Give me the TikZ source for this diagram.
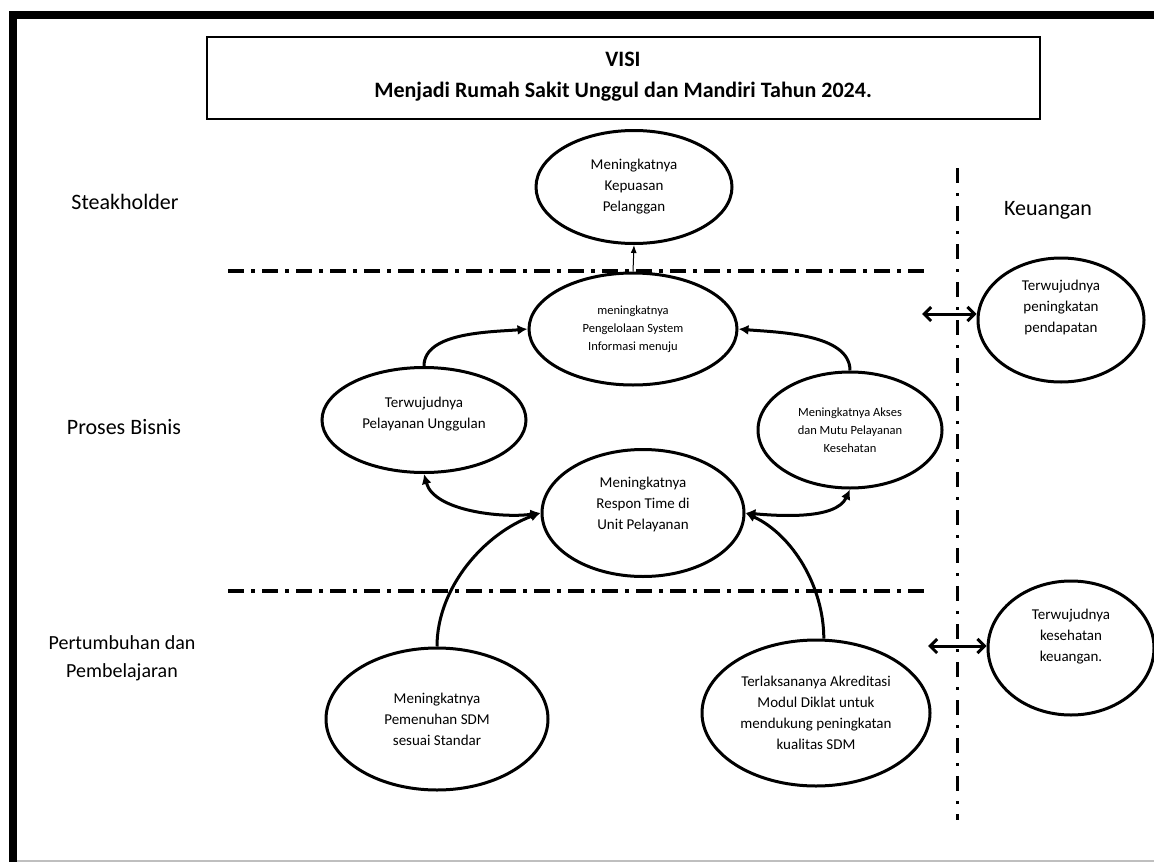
\documentclass[tikz,border=0pt]{standalone}
\usepackage{fontspec}
\setmainfont{Carlito}
\usetikzlibrary{shapes.geometric,arrows.meta}
\tikzset{
  ell/.style={ellipse, draw, line width=3pt, inner sep=0pt, align=center, font=\fontsize{15}{21}\selectfont},
  ellsmall/.style={ell, font=\fontsize{12.5}{17.8}\selectfont},
  lab/.style={align=center, font=\fontsize{22}{28}\selectfont},
  conn/.style={line width=3pt, -{Latex[length=10pt,width=10pt]}},
  dconn/.style={line width=3pt, {Latex[length=10pt,width=10pt]}-{Latex[length=10pt,width=10pt]}},
  barb/.style={line width=3pt, {Straight Barb[length=7pt,width=14pt]}-{Straight Barb[length=7pt,width=14pt]}},
  hsep/.style={line width=3.5pt, dash pattern=on 16pt off 7pt on 4pt off 7pt},
  vsep/.style={line width=3pt, dash pattern=on 15pt off 10pt on 3pt off 10pt}
}
\begin{document}
\begin{tikzpicture}[x=1pt,y=-1pt]
\useasboundingbox (0,0) rectangle (1154,862);
% frame
\draw[gray!50, line width=1.5pt] (12,861) -- (1154,861);
\draw[line width=8pt] (12.5,862) -- (12.5,15) -- (1154,15);
% title
\node[draw, line width=2pt, minimum width=833pt, minimum height=82pt, inner sep=0pt] (visi) at (623.5,78) {};
\node[align=center, font=\bfseries\fontsize{22}{31}\selectfont] (visitxt) at (623,77) {VISI\\Menjadi Rumah Sakit Unggul dan Mandiri Tahun 2024.};
% separators
\draw[hsep] (228,271) -- (930,271);
\draw[hsep] (228,591) -- (930,591);
\draw[vsep] (957,168) -- (957,820);
% labels
\node[lab] (stake) at (125,202) {Steakholder};
\node[lab] (keuangan) at (1048,210) {Keuangan};
\node[lab] (proses) at (124,427) {Proses Bisnis};
\node[lab, font=\fontsize{20}{28}\selectfont] (tumbuh) at (122,658) {Pertumbuhan dan\\Pembelajaran};
% ellipses
\node[ell, minimum width=196pt, minimum height=113pt] (kep) at (634,187) {Meningkatnya\\Kepuasan\\Pelanggan};
\node[ellsmall, minimum width=208pt, minimum height=112pt] (sis) at (633,329) {meningkatnya\\Pengelolaan System\\Informasi menuju};
\node[ell, minimum width=204pt, minimum height=105pt] (ung) at (424,420) {Terwujudnya\\Pelayanan Unggulan\\[-6pt]};
\node[ellsmall, minimum width=184pt, minimum height=116pt] (akses) at (850,430) {Meningkatnya Akses\\dan Mutu Pelayanan\\Kesehatan};
\node[ell, minimum width=202pt, minimum height=127pt] (resp) at (643,513) {Meningkatnya\\Respon Time di\\Unit Pelayanan\\[-2pt]};
\node[ell, minimum width=222pt, minimum height=142pt] (sdm) at (437,719) {Meningkatnya\\Pemenuhan SDM\\sesuai Standar};
\node[ell, minimum width=228pt, minimum height=146pt] (akr) at (816,713) {Terlaksananya Akreditasi\\Modul Diklat untuk\\mendukung peningkatan\\kualitas SDM};
\node[ell, minimum width=166pt, minimum height=124pt] (pend) at (1061,320) {Terwujudnya\\peningkatan\\pendapatan\\[6pt]};
\node[ell, minimum width=166pt, minimum height=134pt] (keu) at (1071,648) {Terwujudnya\\kesehatan\\keuangan.\\[4pt]};
% connectors
\draw[line width=1pt, -{Latex[length=8pt,width=6pt]}] (sis.north) -- (kep.south);
\draw[conn] (ung.north) to[out=90,in=185,looseness=0.8] (sis.west);
\draw[conn] (akses.north) to[out=90,in=-5,looseness=0.8] (sis.east);
\draw[dconn] (ung.south) to[out=-75,in=188,looseness=0.8] (resp.west);
\draw[dconn] (resp.east) to[out=-5,in=-115,looseness=0.8] (akses.south);
\draw[conn] (sdm.north) to[out=90,in=200,looseness=0.9] (resp.west);
\draw[conn] (akr.84) to[out=90,in=-25,looseness=0.9] (resp.east);
\coordinate (k1) at (922,314);
\coordinate (k2) at (928,646);
\draw[barb] (k1) -- (k1 -| pend.west);
\draw[barb] (k2) -- (k2 -| keu.west);
\end{tikzpicture}
\end{document}
